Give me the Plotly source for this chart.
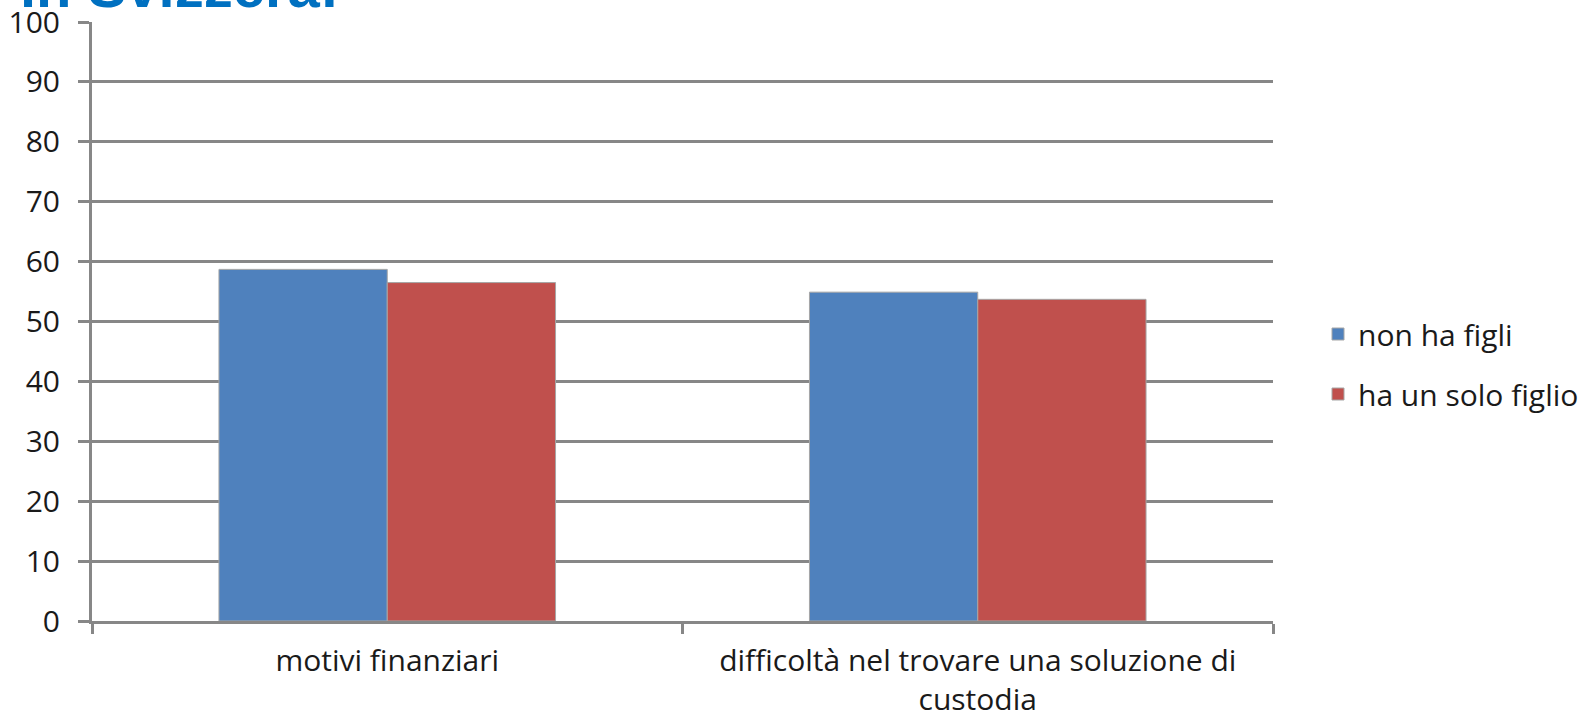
import plotly.graph_objects as go

categories = ["motivi finanziari", "difficoltà nel trovare una soluzione di<br>custodia"]
series_names = ["non ha figli", "ha un solo figlio"]
non_ha_figli = [58.7, 54.9]
ha_un_solo_figlio = [56.5, 53.7]
y_ticks = [0, 10, 20, 30, 40, 50, 60, 70, 80, 90, 100]
title_text = "in Svizzera:"

W, H = 1579, 720
L, R, T, B = 92, 1273, 22, 621
FONT = "Open Sans"
FS = 30
GRID = "#878787"

fig = go.Figure()
fig.add_trace(go.Bar(
    x=categories, y=non_ha_figli, name=series_names[0], legendgroup="a",
    marker=dict(color="#4f81bd", line=dict(color="#a6a6a6", width=1)),
))
fig.add_trace(go.Bar(
    x=categories, y=ha_un_solo_figlio, name=series_names[1], legendgroup="b",
    marker=dict(color="#c0504d", line=dict(color="#a6a6a6", width=1)),
))

fig.update_layout(
    width=W, height=H,
    margin=dict(l=L, r=W - R, t=T, b=H - B, autoexpand=False),
    paper_bgcolor="white", plot_bgcolor="white",
    barmode="group", bargap=0.43, bargroupgap=0,
    font=dict(family=FONT, size=FS, color="#1a1a1a"),
    showlegend=True,
    legend=dict(
        xref="container", yref="container",
        x=1318 / W, y=1 - 364 / H, xanchor="left", yanchor="middle",
        font=dict(family=FONT, size=FS, color="#1a1a1a"),
        tracegroupgap=18, traceorder="grouped",
        bgcolor="rgba(0,0,0,0)",
    ),
    annotations=[dict(
        text="<b>" + title_text + "</b>", xref="paper", yref="paper",
        x=-74 / (R - L), y=1, xanchor="left", yanchor="middle",
        yshift=36,
        showarrow=False,
        font=dict(family="Liberation Sans", size=58, color="#0070c0"),
    )],
)

fig.update_yaxes(
    range=[0, 100], tickvals=y_ticks, automargin=False,
    showgrid=True, gridcolor=GRID, gridwidth=3,
    showline=True, linecolor=GRID, linewidth=3,
    ticks="outside", ticklen=11, tickwidth=3, tickcolor=GRID,
    ticklabelstandoff=12,
    zeroline=False,
    tickfont=dict(family=FONT, size=FS, color="#1a1a1a"),
)
fig.update_xaxes(
    automargin=False,
    showline=True, linecolor=GRID, linewidth=3,
    ticks="outside", tickson="boundaries", ticklen=10, tickwidth=3, tickcolor=GRID,
    ticklabelstandoff=11,
    tickfont=dict(family=FONT, size=FS, color="#1a1a1a"),
)

fig.write_html(
    "out.html",
    config={"displayModeBar": False},
    post_script="document.body.style.margin='0';document.body.style.overflow='hidden';",
)
